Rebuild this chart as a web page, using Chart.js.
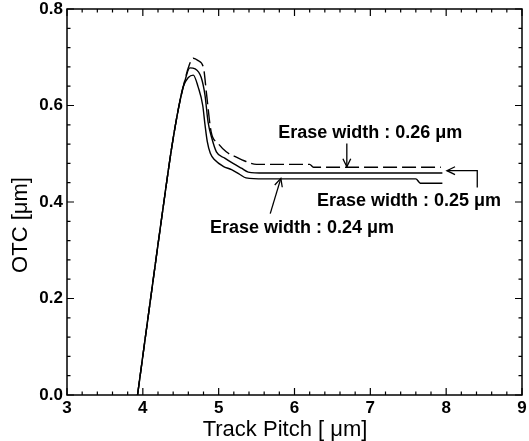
<!DOCTYPE html>
<html>
<head>
<meta charset="utf-8">
<title>OTC vs Track Pitch</title>
<script src="https://cdn.jsdelivr.net/npm/chart.js@4/dist/chart.umd.min.js"></script>
<style>
    html, body { margin: 0; padding: 0; background: #fff; }
    #wrap { width: 529px; height: 441px; }
</style>
</head>
<body>
<div id="wrap"><canvas id="otcChart" width="529" height="441"></canvas></div>
<script>
// Values
const pitch026 = [3.93, 4.20, 4.29, 4.38, 4.47, 4.55, 4.61, 4.665, 4.73, 4.80, 4.84, 4.90, 4.99, 5.10, 5.22, 5.36, 5.50, 6.20, 6.25, 7.93];
const otc026   = [0, 0.312, 0.414, 0.512, 0.594, 0.650, 0.683, 0.698, 0.693, 0.678, 0.624, 0.546, 0.522, 0.504, 0.494, 0.484, 0.478, 0.478, 0.472, 0.472];

const pitch025 = [3.93, 4.20, 4.29, 4.38, 4.47, 4.55, 4.62, 4.69, 4.77, 4.82, 4.86, 4.91, 4.97, 5.08, 5.19, 5.30, 5.39, 5.60, 7.95];
const otc025   = [0, 0.312, 0.414, 0.512, 0.594, 0.648, 0.678, 0.676, 0.658, 0.621, 0.566, 0.532, 0.504, 0.491, 0.480, 0.470, 0.462, 0.460, 0.460];

const pitch024 = [3.93, 4.20, 4.29, 4.38, 4.47, 4.53, 4.60, 4.665, 4.73, 4.79, 4.82, 4.85, 4.89, 4.95, 5.06, 5.17, 5.28, 5.36, 5.60, 7.60, 7.66, 7.95];
const otc024   = [0, 0.312, 0.414, 0.512, 0.594, 0.638, 0.658, 0.663, 0.638, 0.600, 0.560, 0.525, 0.501, 0.487, 0.474, 0.467, 0.457, 0.450, 0.448, 0.448, 0.439, 0.439];

const xTicks = [3, 4, 5, 6, 7, 8, 9];
const yTicks = [0.0, 0.2, 0.4, 0.6, 0.8];

const seriesLabels = ['Erase width : 0.26 μm', 'Erase width : 0.25 μm', 'Erase width : 0.24 μm'];

// annotation texts and arrows, in data units
const notes = [
    { text: seriesLabels[0], x: 7.00, y: 0.542, arrow: [[6.69, 0.521], [6.69, 0.473]] },
    { text: seriesLabels[1], x: 7.51, y: 0.403, arrow: [[8.41, 0.430], [8.41, 0.465], [8.01, 0.465]] },
    { text: seriesLabels[2], x: 6.10, y: 0.347, arrow: [[5.68, 0.376], [5.82, 0.449]] }
];

const FONT = '"Liberation Sans", Arial, sans-serif';

function toPoints(xs, ys) {
    return xs.map((x, i) => ({ x: x, y: ys[i] }));
}

// inward ticks on all four sides, frame, axis titles, notes
const framePlugin = {
    id: 'frame',
    afterDraw(chart) {
        const ctx = chart.ctx;
        const a = chart.chartArea;
        const xs = chart.scales.x;
        const ys = chart.scales.y;
        ctx.save();
        ctx.strokeStyle = '#000';
        ctx.lineWidth = 1.5;
        ctx.strokeRect(a.left, a.top, a.right - a.left, a.bottom - a.top);

        ctx.lineWidth = 1.2;
        ctx.beginPath();
        for (let i = 0; i <= 30; i++) {
            const v = 3 + i * 0.2;
            const px = xs.getPixelForValue(v);
            const len = i % 5 === 0 ? 7 : 3.5;
            ctx.moveTo(px, a.bottom); ctx.lineTo(px, a.bottom - len);
            ctx.moveTo(px, a.top); ctx.lineTo(px, a.top + len);
        }
        for (let i = 0; i <= 20; i++) {
            const v = i * 0.04;
            const py = ys.getPixelForValue(v);
            const len = i % 5 === 0 ? 7 : 3.5;
            ctx.moveTo(a.left, py); ctx.lineTo(a.left + len, py);
            ctx.moveTo(a.right, py); ctx.lineTo(a.right - len, py);
        }
        ctx.stroke();

        // axis titles
        ctx.fillStyle = '#000';
        ctx.font = '22px ' + FONT;
        ctx.textAlign = 'center';
        ctx.textBaseline = 'middle';
        ctx.fillText('Track Pitch [ μm]', 285, 430);
        ctx.save();
        ctx.translate(21, 225);
        ctx.rotate(-Math.PI / 2);
        ctx.fillText('OTC [μm]', 0, 0);
        ctx.restore();

        // notes with arrows
        ctx.font = 'bold 18px ' + FONT;
        notes.forEach(n => {
            ctx.fillText(n.text, xs.getPixelForValue(n.x), ys.getPixelForValue(n.y));
            const pts = n.arrow.map(p => [xs.getPixelForValue(p[0]), ys.getPixelForValue(p[1])]);
            ctx.lineWidth = 1.3;
            ctx.beginPath();
            pts.forEach((p, i) => i === 0 ? ctx.moveTo(p[0], p[1]) : ctx.lineTo(p[0], p[1]));
            ctx.stroke();
            const tip = pts[pts.length - 1];
            const prev = pts[pts.length - 2];
            const ang = Math.atan2(tip[1] - prev[1], tip[0] - prev[0]);
            ctx.beginPath();
            ctx.moveTo(tip[0] - 9 * Math.cos(ang - 0.45), tip[1] - 9 * Math.sin(ang - 0.45));
            ctx.lineTo(tip[0], tip[1]);
            ctx.lineTo(tip[0] - 9 * Math.cos(ang + 0.45), tip[1] - 9 * Math.sin(ang + 0.45));
            ctx.stroke();
        });
        ctx.restore();
    }
};

const lineStyle = {
    borderColor: '#000',
    borderWidth: 1.4,
    pointRadius: 0,
    fill: false,
    cubicInterpolationMode: 'monotone'
};

new Chart(document.getElementById('otcChart'), {
    type: 'line',
    data: {
        datasets: [
            { ...lineStyle, label: seriesLabels[0], data: toPoints(pitch026, otc026), borderDash: [14, 5] },
            { ...lineStyle, label: seriesLabels[1], data: toPoints(pitch025, otc025) },
            { ...lineStyle, label: seriesLabels[2], data: toPoints(pitch024, otc024) }
        ]
    },
    options: {
        responsive: false,
        animation: false,
        layout: { padding: { top: 9, right: 7, left: 0, bottom: 0 } },
        plugins: {
            legend: { display: false },
            tooltip: { enabled: false }
        },
        scales: {
            x: {
                type: 'linear',
                min: 3,
                max: 9,
                afterBuildTicks: s => { s.ticks = xTicks.map(v => ({ value: v })); },
                afterFit: s => { s.height = 46; s.paddingLeft = 0; s.paddingRight = 0; },
                grid: { display: false, drawTicks: false, tickLength: 0 },
                border: { display: false },
                ticks: {
                    color: '#000',
                    padding: 3,
                    maxRotation: 0,
                    font: { family: FONT, size: 17, weight: 'bold' },
                    callback: v => String(v)
                }
            },
            y: {
                type: 'linear',
                min: 0,
                max: 0.8,
                afterBuildTicks: s => { s.ticks = yTicks.map(v => ({ value: v })); },
                afterFit: s => { s.width = 67; s.paddingTop = 0; s.paddingBottom = 0; },
                grid: { display: false, drawTicks: false, tickLength: 0 },
                border: { display: false },
                ticks: {
                    color: '#000',
                    padding: 4,
                    font: { family: FONT, size: 17, weight: 'bold' },
                    callback: v => v.toFixed(1)
                }
            }
        }
    },
    plugins: [framePlugin]
});
</script>
</body>
</html>
